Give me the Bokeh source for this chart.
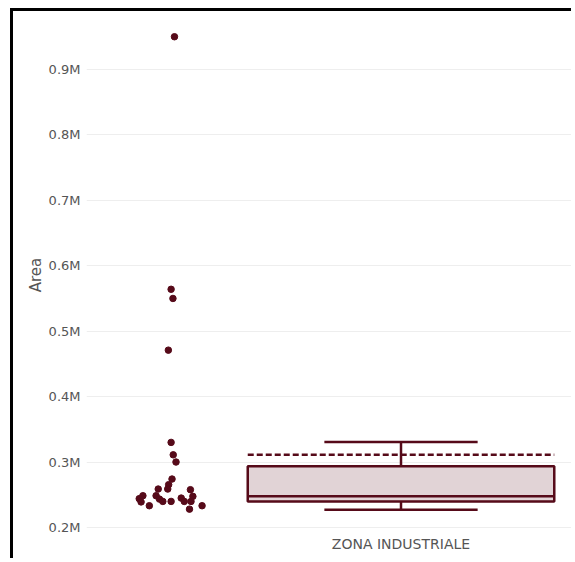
from bokeh.plotting import figure
from bokeh.models import Range1d, FixedTicker, ColumnDataSource
from bokeh.embed import file_html
from bokeh.resources import INLINE

# ---- data ----
category = "ZONA INDUSTRIALE"
area_values = [950000, 564000, 550000, 471000, 330000, 311000, 300000,
               274000, 265400, 258700, 258700, 257700, 248500, 244000,
               239000, 233200, 248500, 243300, 239800, 239800, 244900,
               239800, 247500, 239800, 228000, 233200]
point_jitter = [0.011, 0.0, 0.006, -0.009, 0.0, 0.007, 0.016,
                0.003, -0.008, -0.011, -0.042, 0.063, -0.092, -0.104,
                -0.098, -0.071, -0.049, -0.038, -0.027, 0.0, 0.033,
                0.043, 0.071, 0.065, 0.060, 0.101]
box_lower_fence = [227000]
box_q1 = [239800]
box_median = [247500]
box_q3 = [293400]
box_upper_fence = [330600]
box_mean = [311000]
y_tick_values = [200000, 300000, 400000, 500000, 600000, 700000, 800000, 900000]
y_tick_labels = ["0.2M", "0.3M", "0.4M", "0.5M", "0.6M", "0.7M", "0.8M", "0.9M"]

MAROON = "#560a19"
FONT = "DejaVu Sans"

p = figure(width=561, height=550, output_backend="svg", toolbar_location=None,
           x_range=Range1d(-1.026, 0.566), y_range=Range1d(187700, 984000),
           min_border_left=73, min_border_top=3, min_border_right=0,
           min_border_bottom=26, outline_line_color=None,
           background_fill_color="white", border_fill_color="white")
p.styles = {"border-top": "3px solid black", "border-left": "3px solid black",
            "margin-left": "10px", "margin-top": "8px"}

# points (left of the box)
pts = ColumnDataSource(dict(x=[-0.75 + j for j in point_jitter], y=area_values))
p.scatter("x", "y", source=pts, size=6.5, fill_color=MAROON, line_color=MAROON)

# box
box = ColumnDataSource(dict(left=[-0.5], right=[0.5], q1=box_q1, q3=box_q3,
                            med=box_median, lo=box_lower_fence, hi=box_upper_fence,
                            mean=box_mean, x0=[0.0], cl=[-0.25], cr=[0.25]))
p.segment(x0="x0", y0="q3", x1="x0", y1="hi", source=box, line_color=MAROON, line_width=2.5)
p.segment(x0="x0", y0="lo", x1="x0", y1="q1", source=box, line_color=MAROON, line_width=2.5)
p.segment(x0="cl", y0="hi", x1="cr", y1="hi", source=box, line_color=MAROON, line_width=2.5)
p.segment(x0="cl", y0="lo", x1="cr", y1="lo", source=box, line_color=MAROON, line_width=2.5)
p.quad(left="left", right="right", bottom="q1", top="q3", source=box,
       fill_color=MAROON, fill_alpha=0.18, line_color=MAROON, line_width=2.5)
p.segment(x0="left", y0="med", x1="right", y1="med", source=box, line_color=MAROON, line_width=2.5)
p.segment(x0="left", y0="mean", x1="right", y1="mean", source=box, line_color=MAROON,
          line_width=2.5, line_dash="6 3")

# axes
p.xgrid.visible = False
p.ygrid.grid_line_color = "#eeeeee"
p.ygrid.grid_line_width = 1

p.yaxis.ticker = FixedTicker(ticks=y_tick_values)
p.yaxis.major_label_overrides = {v: t for v, t in zip(y_tick_values, y_tick_labels)}
p.yaxis.axis_label = "Area"
p.xaxis.ticker = FixedTicker(ticks=[0])
p.xaxis.major_label_overrides = {0: category}

for ax in (p.xaxis, p.yaxis):
    ax.axis_line_color = None
    ax.major_tick_line_color = None
    ax.minor_tick_line_color = None
    ax.major_label_text_font = FONT
    ax.major_label_text_color = "#555555"
p.yaxis.major_label_text_font_size = "13px"
p.xaxis.major_label_text_font_size = "14px"
p.yaxis.major_label_standoff = 0
p.xaxis.major_label_standoff = -6
p.yaxis.axis_label_text_font = FONT
p.yaxis.axis_label_text_font_size = "15px"
p.yaxis.axis_label_text_font_style = "normal"
p.yaxis.axis_label_text_color = "#555555"
p.yaxis.axis_label_standoff = 1

open("out.html", "w").write(file_html(p, INLINE))
